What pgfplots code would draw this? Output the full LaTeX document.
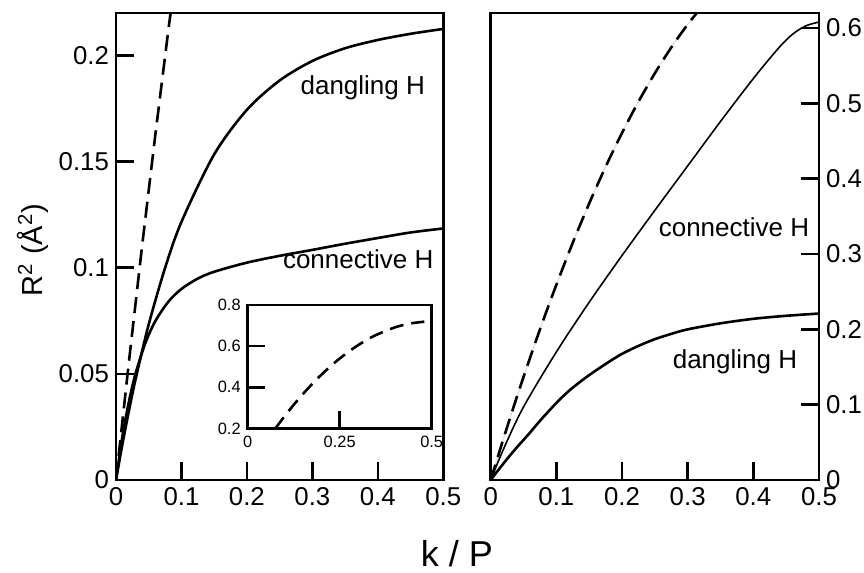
\documentclass[border=0pt]{standalone}
\usepackage{pgfplots}
\pgfplotsset{compat=1.18}
\usepackage{fontspec}
\setmainfont{Liberation Sans}
\newcommand{\tkf}{\fontsize{12.9}{15}\selectfont}
\newcommand{\ikf}{\fontsize{8.2}{10}\selectfont}
\begin{document}
\begin{tikzpicture}
\useasboundingbox (0,0) rectangle (432pt,286.5pt);
\pgfplotsset{
  myax/.style={
    scale only axis,
    axis line style={line width=1.3pt},
    every tick/.style={line width=1.3pt, black},
    major tick length=9pt,
    tick align=inside,
    xmin=0, xmax=0.5,
    xtick={0,0.1,0.2,0.3,0.4,0.5},
    xticklabels={0,0.1,0.2,0.3,0.4,0.5},
    xtick pos=bottom,
    xticklabel style={font=\tkf},
    yticklabel style={font=\tkf},
    every axis plot/.append style={line width=1.3pt, black},
  },
  dsh/.style={dash pattern=on 8pt off 4pt},
}
% ---------- left panel ----------
\begin{axis}[myax,
  at={(58pt,46.5pt)}, anchor=south west,
  width=163.65pt, height=233.5pt,
  ymin=0, ymax=0.22,
  ytick={0,0.05,0.1,0.15,0.2},
  yticklabels={0,0.05,0.1,0.15,0.2},
  ytick pos=left,
  ylabel={R\textsuperscript{2} (Å\textsuperscript{2})},
  ylabel style={at={(axis description cs:-0.2536,0.4925)}, anchor=center, font=\fontsize{14.5}{17}\selectfont},
]
\addplot[dsh] coordinates {(0,0) (0.02,0.0564) (0.04,0.1106) (0.06,0.1624) (0.08,0.212) (0.1,0.2592)};
\addplot[smooth] coordinates {(0,0) (0.01,0.0172) (0.02,0.033) (0.03,0.0476) (0.05,0.0733) (0.075,0.0999) (0.1,0.1216) (0.15,0.1534) (0.2,0.1744) (0.25,0.1882) (0.3,0.1974) (0.35,0.2034) (0.4,0.2073) (0.45,0.2102) (0.5,0.2125)};
\addplot[smooth] coordinates {(0,0) (0.01,0.021) (0.02,0.0373) (0.03,0.0503) (0.045,0.0646) (0.06,0.0748) (0.08,0.084) (0.1,0.09) (0.125,0.0949) (0.15,0.0981) (0.2,0.1024) (0.25,0.1056) (0.3,0.1084) (0.35,0.1113) (0.4,0.114) (0.45,0.1166) (0.5,0.1185)};
\node[font=\fontsize{13}{15}\selectfont] at (axis cs:0.377,0.185) {dangling H};
\node[font=\fontsize{13}{15}\selectfont] at (axis cs:0.37,0.104) {connective H};
\end{axis}
% ---------- inset ----------
\begin{axis}[
  scale only axis,
  at={(123.85pt,72.25pt)}, anchor=south west,
  width=92pt, height=61.75pt,
  axis background/.style={fill=white},
  axis line style={line width=1.3pt},
  every tick/.style={line width=1.3pt, black},
  major tick length=8.5pt,
  tick align=inside,
  xmin=0, xmax=0.5, ymin=0.2, ymax=0.8,
  xtick={0,0.25,0.5}, ytick={0.2,0.4,0.6,0.8},
  xticklabels={0,0.25,0.5}, yticklabels={0.2,0.4,0.6,0.8},
  xtick pos=bottom, ytick pos=left,
  xticklabel style={font=\ikf},
  yticklabel style={font=\ikf},
]
\addplot[smooth, line width=1.3pt, black, dash pattern=on 7pt off 4pt] coordinates {(0.075,0.1998) (0.1,0.2592) (0.125,0.315) (0.15,0.3672) (0.175,0.4158) (0.2,0.4608) (0.225,0.5022) (0.25,0.54) (0.275,0.5742) (0.3,0.6048) (0.325,0.6318) (0.35,0.6552) (0.4,0.6912) (0.44,0.7097) (0.48,0.7189)};
\end{axis}
% ---------- right panel ----------
\begin{axis}[myax,
  at={(245.35pt,46.5pt)}, anchor=south west,
  width=164.15pt, height=233.5pt,
  ymin=0, ymax=0.62,
  ytick={0,0.1,0.2,0.3,0.4,0.5,0.6},
  yticklabels={0,0.1,0.2,0.3,0.4,0.5,0.6},
  ytick pos=right, yticklabel pos=right,
]
\addplot[smooth, line width=0.5pt, gray!30] coordinates {(0,0) (0.02,0.0564) (0.04,0.1106) (0.06,0.1624) (0.08,0.212) (0.1,0.2592) (0.125,0.315) (0.15,0.3672) (0.175,0.4158) (0.2,0.4608) (0.225,0.5022) (0.25,0.54) (0.275,0.5742) (0.3,0.6048) (0.325,0.6318)};
\addplot[smooth, dsh] coordinates {(0,0) (0.02,0.0564) (0.04,0.1106) (0.06,0.1624) (0.08,0.212) (0.1,0.2592) (0.125,0.315) (0.15,0.3672) (0.175,0.4158) (0.2,0.4608) (0.225,0.5022) (0.25,0.54) (0.275,0.5742) (0.3,0.6048) (0.325,0.6318)};
\addplot[smooth, line width=0.8pt] coordinates {(0,0) (0.02,0.042) (0.05,0.097) (0.1,0.17) (0.15,0.236) (0.2,0.298) (0.25,0.358) (0.3,0.417) (0.35,0.476) (0.4,0.533) (0.44,0.575) (0.46,0.592) (0.48,0.603) (0.5,0.608)};
\addplot[smooth] coordinates {(0,0) (0.01,0.0115) (0.026,0.029) (0.04,0.0435) (0.057,0.06) (0.075,0.0785) (0.0975,0.1) (0.12,0.119) (0.148,0.138) (0.175,0.154) (0.199,0.167) (0.225,0.178) (0.25,0.187) (0.275,0.194) (0.3,0.2) (0.35,0.208) (0.4,0.214) (0.45,0.218) (0.5,0.221)};
\node[font=\fontsize{13}{15}\selectfont] at (axis cs:0.3705,0.336) {connective H};
\node[font=\fontsize{13}{15}\selectfont] at (axis cs:0.372,0.157) {dangling H};
\end{axis}
\node[font=\fontsize{18}{21}\selectfont, inner sep=0pt, anchor=base] at (228.5pt,3.2pt) {k / P};
\end{tikzpicture}
\end{document}
